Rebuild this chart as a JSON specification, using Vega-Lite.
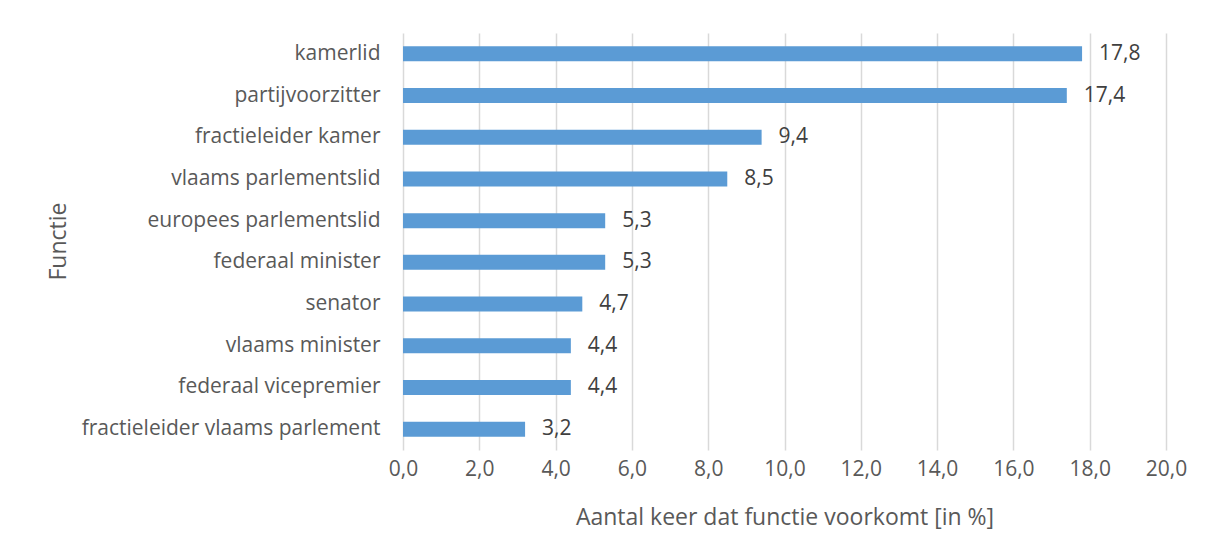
{
  "$schema": "https://vega.github.io/schema/vega-lite/v6.json",
  "autosize": "none",
  "width": 763,
  "height": 417,
  "padding": {"left": 403, "top": 33, "right": 46, "bottom": 110},
  "background": "white",
  "config": {
    "locale": {"number": {"decimal": ",", "thousands": ".", "grouping": [3], "currency": ["€", ""]}},
    "view": {"stroke": null},
    "font": "Open Sans"
  },
  "data": {
    "values": [
      {"functie": "kamerlid", "pct": 17.8},
      {"functie": "partijvoorzitter", "pct": 17.4},
      {"functie": "fractieleider kamer", "pct": 9.4},
      {"functie": "vlaams parlementslid", "pct": 8.5},
      {"functie": "europees parlementslid", "pct": 5.3},
      {"functie": "federaal minister", "pct": 5.3},
      {"functie": "senator", "pct": 4.7},
      {"functie": "vlaams minister", "pct": 4.4},
      {"functie": "federaal vicepremier", "pct": 4.4},
      {"functie": "fractieleider vlaams parlement", "pct": 3.2}
    ]
  },
  "encoding": {
    "y": {
      "field": "functie",
      "type": "nominal",
      "sort": null,
      "scale": {"paddingInner": 0.64, "paddingOuter": 0.32},
      "axis": {
        "title": "Functie",
        "titleFont": "Open Sans",
        "titleFontSize": 23,
        "titleFontWeight": "normal",
        "titleColor": "#595959",
        "titleX": -338,
        "titleY": 208,
        "titleAngle": -90,
        "titleAlign": "center",
        "titleBaseline": "alphabetic",
        "labelFont": "Open Sans",
        "labelFontSize": 21,
        "labelColor": "#595959",
        "labelPadding": 23,
        "labelLimit": 500,
        "ticks": false,
        "domain": false,
        "grid": false
      }
    },
    "x": {
      "field": "pct",
      "type": "quantitative",
      "scale": {"domain": [0, 20], "nice": false},
      "axis": {
        "title": "Aantal keer dat functie voorkomt [in %]",
        "titleFont": "Open Sans",
        "titleFontSize": 23,
        "titleFontWeight": "normal",
        "titleColor": "#595959",
        "titlePadding": 27,
        "format": ".1f",
        "values": [0, 2, 4, 6, 8, 10, 12, 14, 16, 18, 20],
        "labelFont": "Open Sans",
        "labelFontSize": 21,
        "labelColor": "#595959",
        "labelPadding": 8,
        "labelFlush": false,
        "ticks": false,
        "domain": false,
        "grid": true,
        "gridColor": "#d9d9d9",
        "gridWidth": 1.5
      }
    }
  },
  "layer": [
    {"mark": {"type": "bar", "color": "#5b9bd5"}},
    {
      "mark": {"type": "text", "align": "left", "baseline": "middle", "dx": 17, "fontSize": 21, "color": "#404040", "font": "Open Sans"},
      "encoding": {"text": {"field": "pct", "type": "quantitative", "format": ".1f"}}
    }
  ]
}
